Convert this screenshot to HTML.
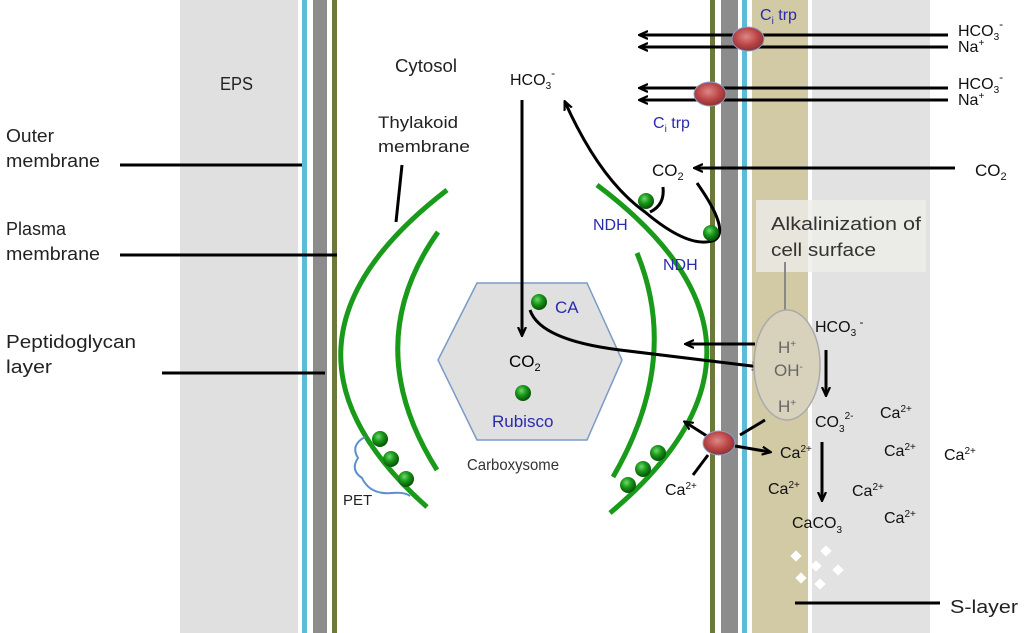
<!DOCTYPE html>
<html><head><meta charset="utf-8"><style>
html,body{margin:0;padding:0;background:#fff;}
svg{display:block;font-family:"Liberation Sans",sans-serif;}
</style></head><body>
<svg width="1024" height="633" viewBox="0 0 1024 633" xmlns="http://www.w3.org/2000/svg">
<defs>
<marker id="ah" markerWidth="10" markerHeight="10" refX="8" refY="5" orient="auto" markerUnits="userSpaceOnUse">
<path d="M0,1 L9,5 L0,9" fill="none" stroke="#000" stroke-width="2.2"/></marker>
<marker id="ahg" markerWidth="10" markerHeight="10" refX="8" refY="5" orient="auto" markerUnits="userSpaceOnUse">
<path d="M0,1 L9,5 L0,9" fill="none" stroke="#777" stroke-width="2"/></marker>
<radialGradient id="gb" cx="0.4" cy="0.35" r="0.6"><stop offset="0" stop-color="#6fd86f"/><stop offset="0.5" stop-color="#1a9a1a"/><stop offset="1" stop-color="#0a5a0a"/></radialGradient>
<radialGradient id="rb" cx="0.45" cy="0.4" r="0.6"><stop offset="0" stop-color="#d88"/><stop offset="0.6" stop-color="#b44"/><stop offset="1" stop-color="#833"/></radialGradient>
</defs>
<rect x="180" y="0" width="118" height="633" fill="#e0e0e0"/>
<rect x="302" y="0" width="5" height="633" fill="#5bbcd8"/>
<rect x="313" y="0" width="14" height="633" fill="#8c8c8c"/>
<rect x="332" y="0" width="5" height="633" fill="#6b7a3a"/>
<rect x="710" y="0" width="5" height="633" fill="#6b7a3a"/>
<rect x="721" y="0" width="17" height="633" fill="#8c8c8c"/>
<rect x="742" y="0" width="5" height="633" fill="#5bbcd8"/>
<rect x="752" y="0" width="56" height="633" fill="#d2c9a5"/>
<rect x="812" y="0" width="118" height="633" fill="#e2e2e2"/>
<rect x="756" y="200" width="170" height="72" fill="#eeeeea" opacity="0.8"/>
<g stroke="#000" stroke-width="3">
<line x1="120" y1="165" x2="302" y2="165"/>
<line x1="120" y1="255" x2="337" y2="255"/>
<line x1="162" y1="373" x2="325" y2="373"/>
<line x1="795" y1="603" x2="940" y2="603"/>
<line x1="402" y1="165" x2="396" y2="222"/>
</g>
<g font-size="18" fill="#222" lengthAdjust="spacingAndGlyphs">
<text x="6" y="142" textLength="48" lengthAdjust="spacingAndGlyphs">Outer</text><text x="6" y="167" textLength="94" lengthAdjust="spacingAndGlyphs">membrane</text>
<text x="6" y="235" textLength="60" lengthAdjust="spacingAndGlyphs">Plasma</text><text x="6" y="260" textLength="94" lengthAdjust="spacingAndGlyphs">membrane</text>
<text x="6" y="348" textLength="130" lengthAdjust="spacingAndGlyphs">Peptidoglycan</text><text x="6" y="373" textLength="46" lengthAdjust="spacingAndGlyphs">layer</text>
<text x="220" y="90" textLength="33" lengthAdjust="spacingAndGlyphs">EPS</text>
<text x="395" y="72" textLength="62" lengthAdjust="spacingAndGlyphs">Cytosol</text>
<text x="378" y="128" font-size="17" textLength="80" lengthAdjust="spacingAndGlyphs">Thylakoid</text><text x="378" y="152" font-size="17" textLength="92" lengthAdjust="spacingAndGlyphs">membrane</text>
<text x="950" y="613" textLength="68" lengthAdjust="spacingAndGlyphs">S-layer</text>
</g>
<g fill="none" stroke="#1a9a1a" stroke-width="5">
<path d="M447,190 Q245,345 427,507"/>
<path d="M438,232 Q358,345 437,470"/>
<path d="M597,185 Q810,345 610,513"/>
<path d="M637,253 Q681,360 613,477"/>
</g>
<polygon points="477,283 587,283 622,360 587,440 477,440 438,360" fill="#e0e0e0" stroke="#7a9ac8" stroke-width="1.5"/>
<text x="467" y="470" font-size="16" fill="#333" textLength="92" lengthAdjust="spacingAndGlyphs">Carboxysome</text>
<text x="509" y="367" font-size="17">CO<tspan font-size="11" dy="4">2</tspan></text>
<text x="492" y="427" font-size="17" fill="#2a2ab0">Rubisco</text>
<text x="555" y="313" font-size="17" fill="#2a2ab0">CA</text>
<path d="M365,437 Q350,445 358,458 Q350,470 362,478 Q370,495 392,493 Q405,492 410,496" fill="none" stroke="#5b8fd0" stroke-width="2"/>
<text x="343" y="505" font-size="15" fill="#222">PET</text>
<g fill="none" stroke="#000" stroke-width="3" marker-end="url(#ah)">
<line x1="522" y1="100" x2="522" y2="335"/>
<path d="M697,183 Q730,230 715,240 Q690,250 645,212 Q600,180 565,102"/>
<line x1="955" y1="168" x2="695" y2="168"/>
<line x1="755" y1="344" x2="686" y2="344"/>
<line x1="826" y1="350" x2="826" y2="395"/>
<line x1="822" y1="442" x2="822" y2="500"/>
<path d="M710,438 L685,422"/>
<path d="M735,446 L770,452"/>
</g>
<path d="M663,187 Q665,205 650,212" fill="none" stroke="#000" stroke-width="3"/>
<path d="M530,310 Q540,340 620,350 Q700,360 760,367" fill="none" stroke="#000" stroke-width="3" marker-end="url(#ahg)"/>
<path d="M708,455 L693,475" stroke="#000" stroke-width="3"/>
<path d="M740,435 L765,420" stroke="#000" stroke-width="3"/>
<g fill="none" stroke="#000" stroke-width="3" marker-end="url(#ah)">
<line x1="948" y1="35" x2="640" y2="35"/>
<line x1="948" y1="47" x2="640" y2="47"/>
<line x1="948" y1="88" x2="640" y2="88"/>
<line x1="948" y1="100" x2="640" y2="100"/>
</g>
<ellipse cx="748" cy="39" rx="16" ry="12" fill="url(#rb)" stroke="#8aa0d0" stroke-width="1"/>
<ellipse cx="710" cy="94" rx="16" ry="12" fill="url(#rb)" stroke="#8aa0d0" stroke-width="1"/>
<ellipse cx="719" cy="443" rx="16" ry="12" fill="url(#rb)" stroke="#8aa0d0" stroke-width="1"/>
<g font-size="16" fill="#2a2ab0">
<text x="760" y="20">C<tspan font-size="10" dy="4">i</tspan><tspan dy="-4"> trp</tspan></text>
<text x="653" y="128">C<tspan font-size="10" dy="4">i</tspan><tspan dy="-4"> trp</tspan></text>
<text x="593" y="230">NDH</text>
<text x="663" y="270">NDH</text>
</g>
<g font-size="16" fill="#111">
<text x="958" y="36">HCO<tspan font-size="10" dy="4">3</tspan><tspan font-size="12" dy="-12">-</tspan></text>
<text x="958" y="52">Na<tspan font-size="10" dy="-6">+</tspan></text>
<text x="958" y="89">HCO<tspan font-size="10" dy="4">3</tspan><tspan font-size="12" dy="-12">-</tspan></text>
<text x="958" y="105">Na<tspan font-size="10" dy="-6">+</tspan></text>
<text x="510" y="85">HCO<tspan font-size="10" dy="4">3</tspan><tspan font-size="12" dy="-12">-</tspan></text>
<text x="652" y="176" font-size="17">CO<tspan font-size="11" dy="4">2</tspan></text>
<text x="975" y="176" font-size="17">CO<tspan font-size="11" dy="4">2</tspan></text>
</g>
<text x="771" y="230" font-size="18" fill="#333" textLength="150" lengthAdjust="spacingAndGlyphs">Alkalinization of</text>
<text x="771" y="256" font-size="18" fill="#333" textLength="105" lengthAdjust="spacingAndGlyphs">cell surface</text>
<line x1="785" y1="262" x2="785" y2="313" stroke="#888" stroke-width="2"/>
<ellipse cx="787" cy="365" rx="33" ry="55" fill="#d8d2bc" stroke="#aaa" stroke-width="1.5"/>
<g font-size="17" fill="#666">
<text x="778" y="353">H<tspan font-size="10" dy="-6">+</tspan></text>
<text x="774" y="376">OH<tspan font-size="10" dy="-6">-</tspan></text>
<text x="778" y="412">H<tspan font-size="10" dy="-6">+</tspan></text>
</g>
<g font-size="16" fill="#111">
<text x="815" y="332">HCO<tspan font-size="10" dy="4">3</tspan><tspan font-size="12" dy="-10"> -</tspan></text>
<text x="815" y="427">CO<tspan font-size="10" dy="5">3</tspan><tspan font-size="10" dy="-13">2-</tspan></text>
<text x="780" y="458">Ca<tspan font-size="10" dy="-6">2+</tspan></text>
<text x="768" y="494">Ca<tspan font-size="10" dy="-6">2+</tspan></text>
<text x="665" y="495">Ca<tspan font-size="10" dy="-6">2+</tspan></text>
<text x="880" y="418">Ca<tspan font-size="10" dy="-6">2+</tspan></text>
<text x="884" y="456">Ca<tspan font-size="10" dy="-6">2+</tspan></text>
<text x="944" y="460">Ca<tspan font-size="10" dy="-6">2+</tspan></text>
<text x="852" y="496">Ca<tspan font-size="10" dy="-6">2+</tspan></text>
<text x="884" y="523">Ca<tspan font-size="10" dy="-6">2+</tspan></text>
<text x="792" y="528">CaCO<tspan font-size="10" dy="5">3</tspan></text>
</g>
<g fill="#fff">
<rect x="792" y="552" width="8" height="8" transform="rotate(45 796 556)"/>
<rect x="822" y="547" width="8" height="8" transform="rotate(45 826 551)"/>
<rect x="812" y="562" width="8" height="8" transform="rotate(45 816 566)"/>
<rect x="834" y="566" width="8" height="8" transform="rotate(45 838 570)"/>
<rect x="797" y="574" width="8" height="8" transform="rotate(45 801 578)"/>
<rect x="816" y="580" width="8" height="8" transform="rotate(45 820 584)"/>
</g>
<g fill="url(#gb)">
<circle cx="539" cy="302" r="8"/>
<circle cx="523" cy="393" r="8"/>
<circle cx="646" cy="201" r="8"/>
<circle cx="711" cy="233" r="8"/>
<circle cx="380" cy="439" r="8"/>
<circle cx="391" cy="459" r="8"/>
<circle cx="406" cy="479" r="8"/>
<circle cx="658" cy="453" r="8"/>
<circle cx="643" cy="469" r="8"/>
<circle cx="628" cy="485" r="8"/>
</g>
</svg>
</body></html>
